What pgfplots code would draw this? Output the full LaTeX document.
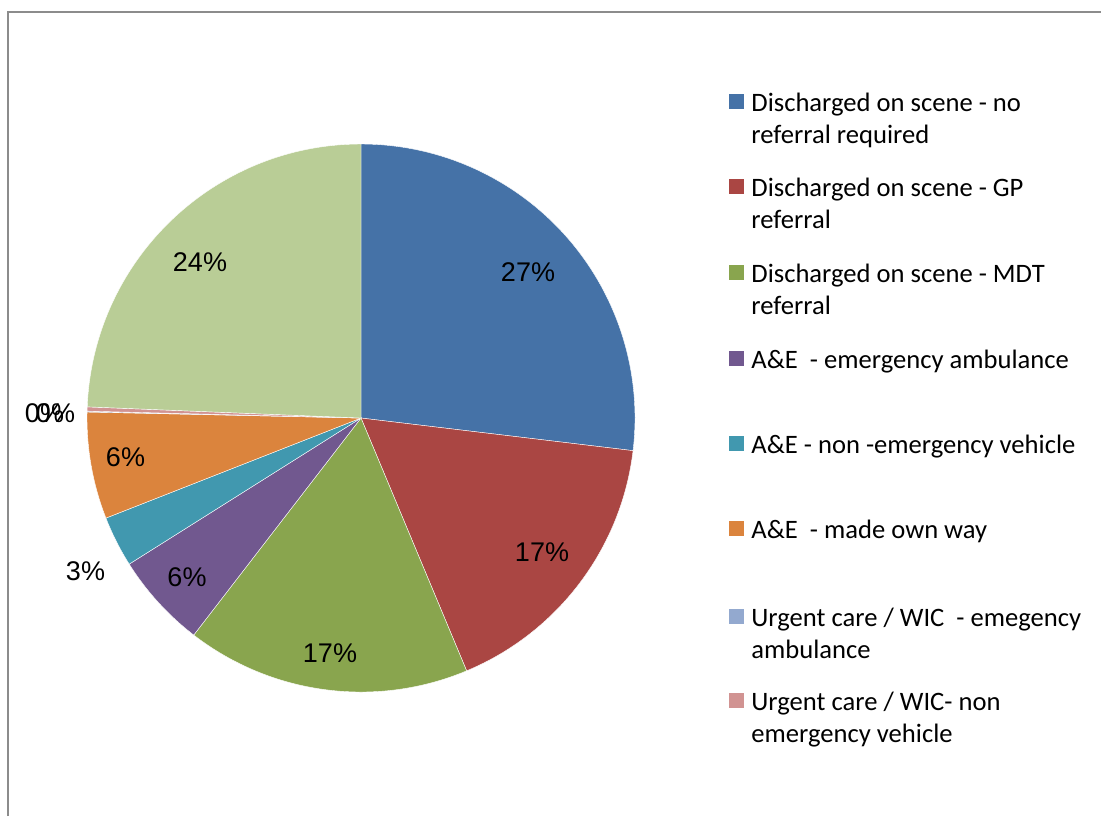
\documentclass[border=0pt]{standalone}
\usepackage{pgfplots}
\pgfplotsset{compat=1.18}
\usepackage{fontspec}
\setmainfont{Carlito}
\newfontfamily\arial{Liberation Sans}

\definecolor{sA}{HTML}{4572A7}
\definecolor{sB}{HTML}{AA4643}
\definecolor{sC}{HTML}{89A54E}
\definecolor{sD}{HTML}{71588F}
\definecolor{sE}{HTML}{4198AF}
\definecolor{sF}{HTML}{DB843D}
\definecolor{sG}{HTML}{93A9CF}
\definecolor{sH}{HTML}{D19392}
\definecolor{sI}{HTML}{B9CD96}
\definecolor{frame}{HTML}{8C8C8C}

\begin{document}
\begin{tikzpicture}
\begin{axis}[
    hide axis,
    x=0.5pt, y=0.5pt,
    y dir=reverse,
    xmin=0, xmax=1101, ymin=0, ymax=816,
    clip=false,
    at={(0,0)}, anchor=origin,
]
% frame (only left and top edges show)
\draw[frame, line width=0.8pt] (axis cs:8,816) -- (axis cs:8,12);
\draw[frame, line width=0.8pt] (axis cs:7.2,12) -- (axis cs:1101,12);

% slices, clockwise from 12 o'clock; value in percent / colour
\gdef\start{0}
\foreach \v/\c in {26.9/sA, 16.8/sB, 16.75/sC, 5.6/sD, 3.0/sE, 6.3/sF, 0.05/sG, 0.25/sH, 24.35/sI} {
    \pgfmathsetmacro\en{\start + 3.6*\v}
    \pgfmathsetmacro\sa{90 - \start}
    \pgfmathsetmacro\ea{90 - \en}
    \edef\temp{\noexpand\fill[\c, draw=white, line width=0.2pt]
        (axis cs:361,418) -- ++(\sa:137pt)
        arc[start angle=\sa, end angle=\ea, radius=137pt] -- cycle;}
    \temp
    \global\let\start\en
}

% percentage labels
\tikzset{pct/.style={font=\arial\fontsize{13.5}{16}\selectfont, inner sep=0pt, anchor=center}}
\node[pct] at (axis cs:528,272.5) {27\%};
\node[pct] at (axis cs:542,552) {17\%};
\node[pct] at (axis cs:330,653) {17\%};
\node[pct] at (axis cs:187,577) {6\%};
\node[pct] at (axis cs:85.5,571.5) {3\%};
\node[pct] at (axis cs:125.5,457.5) {6\%};
\node[pct] at (axis cs:44.5,413) {0\%};
\node[pct] at (axis cs:55.5,413) {0\%};
\node[pct] at (axis cs:200,262) {24\%};

% legend
\tikzset{leg/.style={font=\fontsize{13.3}{16}\selectfont, inner sep=0pt, anchor=base west}}
\foreach \c/\b in {sA/111, sB/196, sC/282, sD/368, sE/453, sF/538, sG/626, sH/710} {
    \edef\temp{\noexpand\fill[\c] (axis cs:729,\b-17) rectangle (axis cs:744,\b-2);}
    \temp
}
\node[leg] at (axis cs:751,111) {Discharged on scene - no};
\node[leg] at (axis cs:751,143) {referral required};
\node[leg] at (axis cs:751,196) {Discharged on scene - GP};
\node[leg] at (axis cs:751,228) {referral};
\node[leg] at (axis cs:751,282) {Discharged on scene - MDT};
\node[leg] at (axis cs:751,314) {referral};
\node[leg] at (axis cs:751,368) {A\&E~~- emergency ambulance};
\node[leg] at (axis cs:751,453) {A\&E - non -emergency vehicle};
\node[leg] at (axis cs:751,538) {A\&E~~- made own way};
\node[leg] at (axis cs:751,626) {Urgent care / WIC~~- emegency};
\node[leg] at (axis cs:751,658) {ambulance};
\node[leg] at (axis cs:751,710) {Urgent care / WIC- non};
\node[leg] at (axis cs:751,742) {emergency vehicle};
\end{axis}
\pgfresetboundingbox
\useasboundingbox (0,0) rectangle (550.5pt,-408pt);
\end{tikzpicture}
\end{document}
